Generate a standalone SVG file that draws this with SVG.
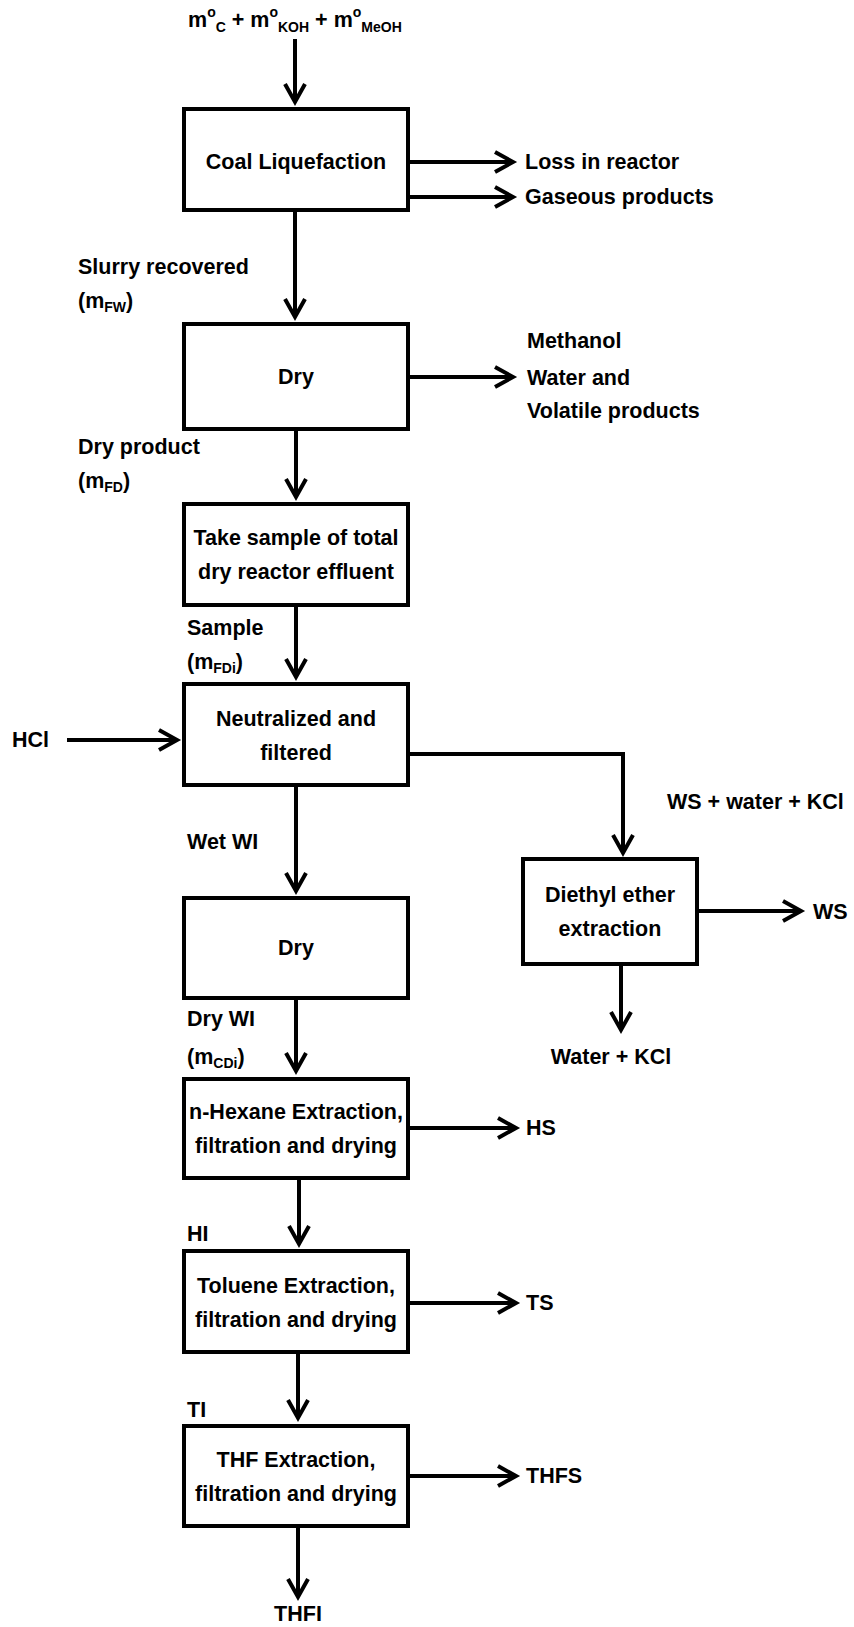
<svg xmlns="http://www.w3.org/2000/svg" width="854" height="1627" viewBox="0 0 854 1627">
<style>
text{font-family:"Liberation Sans",Arial,sans-serif;font-weight:bold;font-size:21.5px;fill:#000}
.box rect{fill:#fff;stroke:#000;stroke-width:4}
.c{text-anchor:middle}
.sub{font-size:14px}
#connectors line,#connectors path{stroke:#000;stroke-width:4;fill:none;marker-end:url(#ah)}
</style>
<defs>
<marker id="ah" markerUnits="userSpaceOnUse" markerWidth="30" markerHeight="30" viewBox="-4 -14 30 28" refX="18" refY="0" orient="auto">
<path d="M0,-10 L18,0 L0,10" fill="none" stroke="#000" stroke-width="4"/>
</marker>
</defs>
<rect width="854" height="1627" fill="#fff"/>

<g id="connectors">
<line x1="295" y1="39" x2="295" y2="102"/>
<line x1="410" y1="162" x2="513" y2="162"/>
<line x1="410" y1="197" x2="513" y2="197"/>
<line x1="295" y1="212" x2="295" y2="317"/>
<line x1="410" y1="377" x2="513" y2="377"/>
<line x1="296" y1="431" x2="296" y2="497"/>
<line x1="296" y1="607" x2="296" y2="677"/>
<line x1="67" y1="740" x2="177" y2="740"/>
<path d="M410,754 H623 V853"/>
<line x1="699" y1="911" x2="801" y2="911"/>
<line x1="621" y1="966" x2="621" y2="1030"/>
<line x1="296" y1="787" x2="296" y2="891"/>
<line x1="296" y1="1000" x2="296" y2="1071"/>
<line x1="410" y1="1128" x2="516" y2="1128"/>
<line x1="299" y1="1180" x2="299" y2="1244"/>
<line x1="410" y1="1303" x2="516" y2="1303"/>
<line x1="298" y1="1354" x2="298" y2="1418"/>
<line x1="410" y1="1476" x2="516" y2="1476"/>
<line x1="298" y1="1528" x2="298" y2="1597"/>
</g>

<g id="n_input"><text x="188" y="27">m<tspan class="sub" dy="-10">o</tspan><tspan class="sub" dy="15">C</tspan><tspan dy="-5"> + m</tspan><tspan class="sub" dy="-10">o</tspan><tspan class="sub" dy="15">KOH</tspan><tspan dy="-5"> + m</tspan><tspan class="sub" dy="-10">o</tspan><tspan class="sub" dy="15">MeOH</tspan></text></g>

<g id="n_coal" class="box"><rect x="184" y="109" width="224" height="101"/><text class="c" x="296" y="169">Coal Liquefaction</text></g>
<g id="n_loss"><text x="525" y="169">Loss in reactor</text></g>
<g id="n_gas"><text x="525" y="204">Gaseous products</text></g>

<g id="l_slurry"><text x="78" y="274">Slurry recovered</text><text x="78" y="308">(m<tspan class="sub" dy="4">FW</tspan><tspan dy="-4">)</tspan></text></g>

<g id="n_dry1" class="box"><rect x="184" y="324" width="224" height="105"/><text class="c" x="296" y="384">Dry</text></g>
<g id="n_methanol"><text x="527" y="348">Methanol</text><text x="527" y="385">Water and</text><text x="527" y="418">Volatile products</text></g>

<g id="l_dryproduct"><text x="78" y="454">Dry product</text><text x="78" y="488">(m<tspan class="sub" dy="4">FD</tspan><tspan dy="-4">)</tspan></text></g>

<g id="n_sample" class="box"><rect x="184" y="504" width="224" height="101"/><text class="c" x="296" y="545">Take sample of total</text><text class="c" x="296" y="579">dry reactor effluent</text></g>

<g id="l_sample"><text x="187" y="635">Sample</text><text x="187" y="669">(m<tspan class="sub" dy="4">FDi</tspan><tspan dy="-4">)</tspan></text></g>

<g id="n_hcl"><text x="12" y="747">HCl</text></g>
<g id="n_neutral" class="box"><rect x="184" y="684" width="224" height="101"/><text class="c" x="296" y="726">Neutralized and</text><text class="c" x="296" y="760">filtered</text></g>

<g id="l_ws"><text x="667" y="809">WS + water + KCl</text></g>
<g id="n_diethyl" class="box"><rect x="523" y="859" width="174" height="105"/><text class="c" x="610" y="902">Diethyl ether</text><text class="c" x="610" y="936">extraction</text></g>
<g id="n_wsout"><text x="813" y="919">WS</text></g>
<g id="n_waterkcl"><text class="c" x="611" y="1064">Water + KCl</text></g>

<g id="l_wetwi"><text x="187" y="849">Wet WI</text></g>
<g id="n_dry2" class="box"><rect x="184" y="898" width="224" height="100"/><text class="c" x="296" y="955">Dry</text></g>

<g id="l_drywi"><text x="187" y="1026">Dry WI</text><text x="187" y="1064">(m<tspan class="sub" dy="4">CDi</tspan><tspan dy="-4">)</tspan></text></g>

<g id="n_hexane" class="box"><rect x="184" y="1079" width="224" height="99"/><text class="c" x="296" y="1119">n-Hexane Extraction,</text><text class="c" x="296" y="1153">filtration and drying</text></g>
<g id="n_hs"><text x="526" y="1135">HS</text></g>

<g id="l_hi"><text x="187" y="1241">HI</text></g>
<g id="n_toluene" class="box"><rect x="184" y="1251" width="224" height="101"/><text class="c" x="296" y="1293">Toluene Extraction,</text><text class="c" x="296" y="1327">filtration and drying</text></g>
<g id="n_ts"><text x="526" y="1310">TS</text></g>

<g id="l_ti"><text x="187" y="1417">TI</text></g>
<g id="n_thf" class="box"><rect x="184" y="1426" width="224" height="100"/><text class="c" x="296" y="1467">THF Extraction,</text><text class="c" x="296" y="1501">filtration and drying</text></g>
<g id="n_thfs"><text x="526" y="1483">THFS</text></g>
<g id="n_thfi"><text class="c" x="298" y="1621">THFI</text></g>
</svg>
